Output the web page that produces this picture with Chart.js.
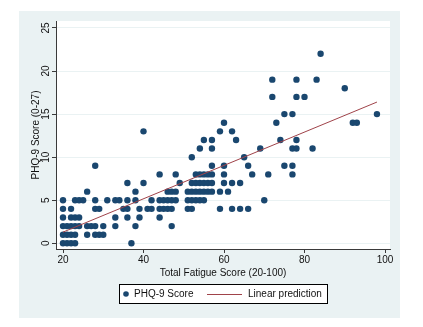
<!DOCTYPE html>
<html><head><meta charset="utf-8">
<script src="https://cdn.jsdelivr.net/npm/chart.js@4"></script>
<style>html,body{margin:0;padding:0;background:#fff}#wrap{width:423px;height:327px}</style>
</head><body><div id="wrap"><canvas id="c" width="423" height="327"></canvas></div>
<script>
// Total Fatigue Score (x) and PHQ-9 Score (y)
const fatigue = [
  20,21,22,23,37,
  20,21,22,23,26,28,29,30,
  20,21,22,23,24,26,27,28,30,33,38,47,
  20,22,23,24,33,36,39,44,
  20,22,28,29,35,36,39,41,42,44,45,46,47,51,52,59,62,64,66,
  20,23,24,25,28,31,33,34,36,38,42,44,45,46,47,48,51,52,53,54,55,70,
  26,38,46,47,48,51,52,53,54,55,56,57,59,61,
  36,40,49,52,53,54,55,56,57,60,62,64,
  44,48,53,54,55,56,57,60,67,71,77,
  28,57,60,66,75,77,
  52,65,
  54,57,69,77,78,82,
  55,57,63,74,78,
  40,59,62,
  60,73,92,93,
  75,77,98,
  72,78,80,
  90,
  72,78,83,
  84
];
const phq = [
  0,0,0,0,0,
  1,1,1,1,1,1,1,1,
  2,2,2,2,2,2,2,2,2,2,2,2,
  3,3,3,3,3,3,3,3,
  4,4,4,4,4,4,4,4,4,4,4,4,4,4,4,4,4,4,4,
  5,5,5,5,5,5,5,5,5,5,5,5,5,5,5,5,5,5,5,5,5,5,
  6,6,6,6,6,6,6,6,6,6,6,6,6,6,
  7,7,7,7,7,7,7,7,7,7,7,7,
  8,8,8,8,8,8,8,8,8,8,8,
  9,9,9,9,9,9,
  10,10,
  11,11,11,11,11,11,
  12,12,12,12,12,
  13,13,13,
  14,14,14,14,
  15,15,15,
  17,17,17,
  18,
  19,19,19,
  22
];
// Linear prediction line (end points)
const fitX = [20, 98];
const fitY = [1.3, 16.4];
const xTicks = [20, 40, 60, 80, 100];
const yTicks = [0, 5, 10, 15, 20, 25];
const seriesNames = ['PHQ-9 Score', 'Linear prediction'];

const FONT = '"Liberation Sans", Arial, Helvetica, sans-serif';
const NAVY = '#1a476f';
const MAROON = '#a0434a';
const PANEL = '#eaf2f3';
const AXIS = '#3a3a3a';
const TXT = '#111111';

const bgPlugin = {
  id: 'bg',
  beforeDraw(chart) {
    const ctx = chart.ctx, a = chart.chartArea;
    ctx.save();
    ctx.fillStyle = '#ffffff';
    ctx.fillRect(0, 0, chart.width, chart.height);
    ctx.fillStyle = PANEL;
    ctx.fillRect(19, 11, 381, 307);
    ctx.fillStyle = '#ffffff';
    ctx.fillRect(a.left, a.top, a.right - a.left, a.bottom - a.top);
    ctx.restore();
  }
};

const legendPlugin = {
  id: 'boxLegend',
  afterDraw(chart) {
    const ctx = chart.ctx;
    const ds = chart.data.datasets;
    const scatter = ds.find(d => d.type === 'scatter');
    const line = ds.find(d => d.type === 'line');
    ctx.save();
    ctx.fillStyle = '#ffffff';
    ctx.fillRect(119, 284, 208, 19);
    ctx.strokeStyle = '#000000';
    ctx.lineWidth = 1;
    ctx.strokeRect(119.5, 284.5, 208, 19);
    const cy = 294;
    ctx.fillStyle = scatter.backgroundColor;
    ctx.beginPath();
    ctx.arc(126, cy, 2.8, 0, Math.PI * 2);
    ctx.fill();
    ctx.strokeStyle = line.borderColor;
    ctx.lineWidth = 1;
    ctx.beginPath();
    ctx.moveTo(207, cy + 0.5);
    ctx.lineTo(242, cy + 0.5);
    ctx.stroke();
    ctx.fillStyle = TXT;
    ctx.font = '10px ' + FONT;
    ctx.textBaseline = 'middle';
    ctx.textAlign = 'left';
    ctx.fillText(scatter.label, 134, cy + 0.5);
    ctx.fillText(line.label, 248, cy + 0.5);
    ctx.restore();
  }
};

new Chart(document.getElementById('c'), {
  data: {
    datasets: [
      {
        type: 'line',
        label: seriesNames[1],
        data: fitX.map((x, i) => ({x: x, y: fitY[i]})),
        borderColor: MAROON,
        borderWidth: 1,
        pointRadius: 0,
        fill: false,
        order: 0
      },
      {
        type: 'scatter',
        label: seriesNames[0],
        data: fatigue.map((x, i) => ({x: x, y: phq[i]})),
        backgroundColor: NAVY,
        borderColor: NAVY,
        borderWidth: 0,
        pointRadius: 3.2,
        pointHoverRadius: 3.2,
        order: 1
      }
    ]
  },
  options: {
    responsive: false,
    animation: false,
    devicePixelRatio: 1,
    layout: { padding: { left: 19, right: 33, top: 21, bottom: 48 } },
    plugins: { legend: { display: false }, tooltip: { enabled: false } },
    scales: {
      x: {
        type: 'linear', position: 'bottom',
        min: 18.26, max: 101.24,
        afterBuildTicks: s => { s.ticks = xTicks.map(v => ({value: v})); },
        afterFit: s => { s.height = 30; },
        grid: { drawOnChartArea: false, tickLength: 4, tickColor: AXIS, tickWidth: 1 },
        border: { color: AXIS, width: 1 },
        ticks: { padding: 1, maxRotation: 0, color: TXT, font: { family: FONT, size: 10 } },
        title: { display: true, text: 'Total Fatigue Score (20-100)', color: TXT,
                 font: { family: FONT, size: 10 }, padding: { top: 0, bottom: 0 } }
      },
      y: {
        type: 'linear', position: 'left',
        min: -0.66, max: 25.81,
        afterBuildTicks: s => { s.ticks = yTicks.map(v => ({value: v})); },
        afterFit: s => { s.width = 37; },
        grid: { color: PANEL, lineWidth: 1, tickColor: AXIS, tickLength: 4, tickWidth: 1 },
        border: { color: AXIS, width: 1 },
        ticks: { minRotation: 90, maxRotation: 90, crossAlign: 'center', padding: 0,
                 color: TXT, font: { family: FONT, size: 10 } },
        title: { display: true, text: 'PHQ-9 Score (0-27)', color: TXT,
                 font: { family: FONT, size: 10 }, padding: { top: 11, bottom: 0 } }
      }
    }
  },
  plugins: [bgPlugin, legendPlugin]
});
</script>
</body></html>
